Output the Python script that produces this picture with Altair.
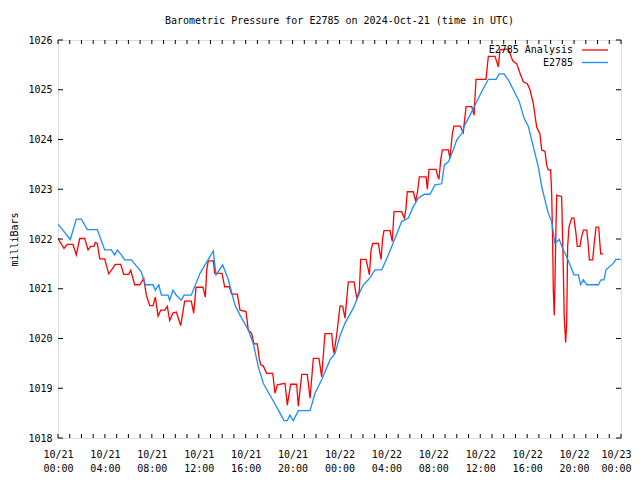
import altair as alt
import pandas as pd

# hours since 2024-10-21 00:00 UTC
BLUE_HOURS = [0, 1.05, 1.56, 1.99, 2.50, 3.35, 3.98, 4.54, 4.83, 5.06, 5.40, 5.69, 6.25, 7.10, 7.44, 8.10,
              8.30, 8.59, 8.81, 9.38, 9.52, 9.80, 10.09, 10.51, 10.74, 11.36, 12.11, 13.24, 13.47, 14.04,
              14.52, 15.09, 15.52, 16.22, 16.65, 17.08, 17.50, 18.22, 18.93, 19.27, 19.55, 19.78, 20.06,
              20.49, 21.49, 21.91, 22.48, 23.19, 23.62, 24.04, 24.47, 25.18, 25.75, 26.03, 26.46, 27.03,
              27.60, 28.16, 28.73, 29.30, 29.87, 30.29, 30.72, 31.23, 31.72, 32.14, 32.71, 32.94, 33.28,
              33.70, 33.99, 34.42, 34.70, 35.13, 35.55, 36.12, 36.69, 37.34, 37.62, 38.03, 38.39, 38.82,
              39.33, 39.73, 40.10, 40.52, 40.95, 41.24, 41.52, 41.80, 42.09, 42.37, 42.74, 43.08, 43.37,
              43.65, 43.99, 44.36, 44.56, 44.79, 45.08, 46.07, 46.29, 46.55, 46.72, 47.00, 47.34, 47.57, 47.97]
BLUE_MB = [1022.30, 1021.99, 1022.40, 1022.40, 1022.19, 1022.19, 1021.78, 1021.78, 1021.68, 1021.78, 1021.68,
           1021.58, 1021.58, 1021.34, 1021.08, 1021.08, 1020.97, 1021.08, 1020.87, 1020.87, 1020.77, 1020.97,
           1020.87, 1020.77, 1020.87, 1020.87, 1021.31, 1021.76, 1021.28, 1021.48, 1021.18, 1020.67, 1020.47,
           1020.17, 1019.90, 1019.43, 1019.10, 1018.80, 1018.50, 1018.35, 1018.35, 1018.46, 1018.35, 1018.55,
           1018.55, 1018.90, 1019.17, 1019.57, 1019.70, 1020.05, 1020.31, 1020.61, 1020.94, 1021.08, 1021.18,
           1021.38, 1021.38, 1021.68, 1022.01, 1022.35, 1022.42, 1022.65, 1022.82, 1022.90, 1022.90, 1023.09,
           1023.11, 1023.49, 1023.55, 1023.79, 1023.99, 1024.12, 1024.30, 1024.49, 1024.69, 1024.96, 1025.21,
           1025.21, 1025.32, 1025.32, 1025.20, 1025.00, 1024.76, 1024.43, 1024.26, 1023.86, 1023.45, 1023.05,
           1022.78, 1022.52, 1022.35, 1021.91, 1021.99, 1021.78, 1021.64, 1021.48, 1021.28, 1021.28, 1021.08,
           1021.18, 1021.08, 1021.08, 1021.18, 1021.18, 1021.38, 1021.44, 1021.51, 1021.59, 1021.59]

RED_HOURS = [0, 0.51, 0.79, 1.28, 1.56, 1.85, 2.28, 2.56, 2.79, 3.07, 3.18, 3.35, 3.56, 3.98, 4.32, 4.54, 4.89,
             5.35, 5.60, 6.03, 6.20, 6.54, 6.97, 7.31, 7.53, 7.82, 8.10, 8.30, 8.53, 8.76, 9.10, 9.32, 9.52,
             9.80, 10.09, 10.46, 10.80, 11.36, 11.57, 11.77, 12.36, 12.56, 12.68, 12.81, 13.24, 13.36, 13.98,
             14.21, 14.61, 14.80, 15.29, 15.52, 16.03, 16.22, 16.51, 16.71, 16.99, 17.16, 17.28, 17.50, 17.79,
             18.31, 18.50, 18.70, 19.35, 19.55, 19.84, 20.35, 20.49, 20.78, 21.25, 21.49, 21.77, 22.25, 22.48,
             22.76, 23.34, 23.42, 23.53, 23.76, 24.04, 24.27, 24.47, 24.75, 25.24, 25.47, 25.69, 25.81, 26.26,
             26.46, 26.55, 26.69, 26.83, 27.31, 27.54, 27.68, 27.79, 28.31, 28.50, 28.65, 29.30, 29.53, 29.65,
             29.78, 30.29, 30.50, 30.67, 30.81, 31.38, 31.49, 31.63, 32.23, 32.34, 32.48, 32.63, 32.77, 33.28,
             33.42, 33.62, 33.76, 34.29, 34.55, 34.79, 35.27, 35.47, 35.64, 36.49, 36.69, 37.26, 37.54, 37.68,
             38.39, 38.54, 38.77, 39.11, 39.39, 39.67, 40.01, 40.24, 40.52, 40.81, 41.09, 41.24, 41.52, 41.66,
             41.80, 42.00, 42.09, 42.17, 42.23, 42.31, 42.37, 42.46, 42.52, 42.94, 43.08, 43.16, 43.28, 43.37,
             43.45, 43.57, 43.80, 43.99, 44.16, 44.27, 44.50, 44.65, 44.79, 45.08, 45.21, 45.30, 45.59, 45.70,
             45.87, 46.10, 46.21, 46.27, 46.49]
RED_MB = [1022.01, 1021.81, 1021.89, 1021.89, 1021.68, 1022.01, 1022.01, 1021.78, 1021.85, 1021.85, 1021.93,
          1021.91, 1021.60, 1021.60, 1021.30, 1021.37, 1021.49, 1021.49, 1021.29, 1021.29, 1021.37, 1021.08,
          1021.08, 1021.21, 1020.87, 1020.66, 1020.66, 1020.83, 1020.45, 1020.57, 1020.57, 1020.65, 1020.36,
          1020.51, 1020.53, 1020.26, 1020.75, 1020.75, 1020.51, 1021.03, 1021.03, 1020.83, 1021.38, 1021.56,
          1021.56, 1021.31, 1021.31, 1021.04, 1021.04, 1020.89, 1020.89, 1020.57, 1020.54, 1020.17, 1020.10,
          1019.89, 1019.89, 1019.60, 1019.47, 1019.45, 1019.30, 1019.30, 1018.90, 1019.07, 1019.10, 1018.66,
          1019.08, 1019.08, 1018.64, 1019.28, 1019.28, 1018.80, 1019.60, 1019.60, 1019.23, 1020.10, 1020.10,
          1019.87, 1019.70, 1020.07, 1020.65, 1020.65, 1020.41, 1021.14, 1021.14, 1020.81, 1020.95, 1021.59,
          1021.59, 1021.38, 1021.28, 1021.78, 1021.91, 1021.91, 1021.59, 1022.01, 1022.17, 1022.17, 1021.95,
          1022.55, 1022.55, 1022.42, 1022.58, 1022.95, 1022.95, 1022.75, 1022.98, 1023.25, 1023.25, 1023.00,
          1023.40, 1023.40, 1023.29, 1023.20, 1023.59, 1023.79, 1023.79, 1023.62, 1024.12, 1024.27, 1024.27,
          1024.14, 1024.66, 1024.66, 1024.49, 1025.21, 1025.21, 1025.67, 1025.67, 1025.46, 1025.80, 1025.82,
          1025.73, 1025.58, 1025.52, 1025.33, 1025.16, 1025.12, 1025.00, 1024.73, 1024.25, 1024.11, 1023.79,
          1023.76, 1023.49, 1023.39, 1023.39, 1022.92, 1021.98, 1020.97, 1020.47, 1021.11, 1022.31, 1022.88,
          1022.85, 1021.41, 1020.44, 1019.92, 1020.30, 1021.85, 1022.25, 1022.42, 1022.42, 1022.11, 1021.85,
          1021.85, 1022.05, 1022.18, 1022.18, 1021.88, 1021.58, 1021.58, 1021.88, 1022.24, 1022.24, 1021.88,
          1021.70, 1021.70]

X_TICKS = list(range(0, 49, 4))
X_MINOR = list(range(0, 49))
Y_TICKS = list(range(1018, 1027))

W, H = 563, 398
FONT = "DejaVu Sans Mono"
RED = "#ff0000"
BLUE = "#1a8cff"

blue_df = pd.DataFrame({"h": BLUE_HOURS, "mb": BLUE_MB})
red_df = pd.DataFrame({"h": RED_HOURS, "mb": RED_MB})

xscale = alt.Scale(domain=[0, 48], nice=False, zero=False)
yscale = alt.Scale(domain=[1018, 1026], nice=False, zero=False)

label_expr = ("[datum.value < 24 ? '10/21' : (datum.value < 48 ? '10/22' : '10/23'), "
              "(datum.value % 24 < 10 ? '0' : '') + (datum.value % 24) + ':00']")

xaxis = alt.Axis(values=X_TICKS, labelExpr=label_expr, ticks=False, domain=False, grid=False,
                 labelFont=FONT, labelFontSize=10, labelColor="black", labelPadding=11,
                 labelLineHeight=14, title=None, labelFlush=False,
                 labelOffset={"condition": {"test": "datum.value >= 48", "value": -5}, "value": 0})
yaxis = alt.Axis(values=Y_TICKS, format="d", ticks=False, domain=False, grid=False, labelFont=FONT,
                 labelFontSize=10, labelColor="black", labelPadding=6, title="milliBars",
                 titleFont=FONT, titleFontSize=10, titleFontWeight="normal", titleColor="black",
                 titleX=-44, titleY=H / 2, titleAngle=-90, titleAlign="center", titleBaseline="middle")

red_line = alt.Chart(red_df).mark_line(color=RED, strokeWidth=1.3, clip=True).encode(
    x=alt.X("h:Q", scale=xscale, axis=xaxis),
    y=alt.Y("mb:Q", scale=yscale, axis=yaxis),
)
blue_line = alt.Chart(blue_df).mark_line(color=BLUE, strokeWidth=1.3, clip=True).encode(
    x=alt.X("h:Q", scale=xscale),
    y=alt.Y("mb:Q", scale=yscale),
)

xt = pd.DataFrame({"h": X_MINOR})
yt = pd.DataFrame({"v": Y_TICKS})
xt_bottom = alt.Chart(xt).mark_rule(color="black", strokeWidth=1).encode(
    x=alt.X("h:Q", scale=xscale), y=alt.value(H), y2=alt.value(H - 4))
xt_top = alt.Chart(xt).mark_rule(color="black", strokeWidth=1).encode(
    x=alt.X("h:Q", scale=xscale), y=alt.value(0), y2=alt.value(4))
yt_left = alt.Chart(yt).mark_rule(color="black", strokeWidth=1).encode(
    y=alt.Y("v:Q", scale=yscale), x=alt.value(0), x2=alt.value(5))
yt_right = alt.Chart(yt).mark_rule(color="black", strokeWidth=1).encode(
    y=alt.Y("v:Q", scale=yscale), x=alt.value(W - 5), x2=alt.value(W))

legend_df = pd.DataFrame({"name": ["E2785 Analysis", "E2785"]})
leg_text1 = alt.Chart(legend_df).transform_filter("datum.name == 'E2785 Analysis'").mark_text(
    font=FONT, fontSize=10, align="right", baseline="middle", color="black").encode(
    text="name:N", x=alt.value(515), y=alt.value(10))
leg_text2 = alt.Chart(legend_df).transform_filter("datum.name == 'E2785'").mark_text(
    font=FONT, fontSize=10, align="right", baseline="middle", color="black").encode(
    text="name:N", x=alt.value(515), y=alt.value(22.5))
leg_line1 = alt.Chart(legend_df).transform_filter("datum.name == 'E2785 Analysis'").mark_rule(
    color=RED, strokeWidth=1.3).encode(x=alt.value(524), x2=alt.value(550), y=alt.value(10))
leg_line2 = alt.Chart(legend_df).transform_filter("datum.name == 'E2785'").mark_rule(
    color=BLUE, strokeWidth=1.3).encode(x=alt.value(524), x2=alt.value(550), y=alt.value(22.5))

chart = alt.layer(
    red_line, blue_line, xt_bottom, xt_top, yt_left, yt_right,
    leg_text1, leg_text2, leg_line1, leg_line2,
).properties(
    width=W, height=H,
    title=alt.TitleParams("Barometric Pressure for E2785 on 2024-Oct-21 (time in UTC)", font=FONT,
                          fontSize=10, fontWeight="normal", color="black", anchor="middle", offset=9),
    autosize=alt.AutoSizeParams(type="none"),
    padding={"left": 50, "top": 32, "right": 11, "bottom": 34},
).configure_view(stroke="black", strokeWidth=1).configure(background="white")

chart.save("out.html", embed_options={"renderer": "svg", "actions": False})
